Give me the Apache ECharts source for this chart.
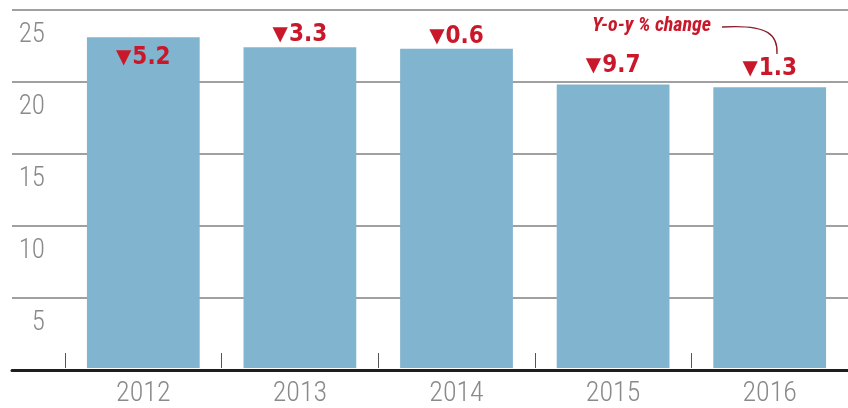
<!DOCTYPE html>
<html>
<head>
<meta charset="utf-8">
<script src="https://cdn.jsdelivr.net/npm/echarts@6/dist/echarts.min.js"></script>
<style>
html,body{margin:0;padding:0;background:#fff;}
#c{width:848px;height:408px;}
</style>
</head>
<body>
<div id="c"></div>
<script>
// Data
var years = ['2012', '2013', '2014', '2015', '2016'];
var values = [23.1, 22.4, 22.3, 19.8, 19.6];
var yoyChange = ['5.2', '3.3', '0.6', '9.7', '1.3'];
var yTicks = [0, 5, 10, 15, 20, 25];

var RED = '#c8182a';
var BAR = '#80b4cf';
var LABEL_FONT = '"Roboto Condensed", sans-serif';
var NUM_FONT = '"DejaVu Sans Condensed", "DejaVu Sans", sans-serif';

var chart = echarts.init(document.getElementById('c'), null, {renderer: 'canvas'});

var barData = values.map(function (v, i) {
  var item = {value: v};
  if (i === 0) {
    item.label = {position: 'insideTop', distance: 9};
  } else if (i >= 3) {
    item.label = {distance: 7};
  }
  return item;
});

var option = {
  animation: false,
  backgroundColor: '#fff',
  grid: [
    {left: 12, right: 0, top: 10, bottom: 38},
    {left: 65, right: -2, top: 10, bottom: 38}
  ],
  xAxis: [
    {
      gridIndex: 0, type: 'value', min: 0, max: 1, z: 5,
      axisLine: {show: true, lineStyle: {color: '#1e1e1e', width: 3}},
      axisTick: {show: false}, axisLabel: {show: false}, splitLine: {show: false}
    },
    {
      gridIndex: 1, type: 'category', data: years,
      axisLine: {show: false},
      axisTick: {show: true, inside: true, length: 15, lineStyle: {color: '#555', width: 1}},
      axisLabel: {color: '#8a8a8a', fontSize: 28, fontWeight: 300, fontFamily: LABEL_FONT, margin: 12}
    }
  ],
  yAxis: [
    {
      gridIndex: 0, type: 'value', min: yTicks[0], max: yTicks[yTicks.length - 1], interval: yTicks[1] - yTicks[0],
      axisLine: {show: false}, axisTick: {show: false},
      splitLine: {show: true, lineStyle: {color: '#a0a0a0', width: 2}},
      axisLabel: {
        inside: true, margin: 33, align: 'right', verticalAlign: 'top',
        padding: [12, 0, 0, 0],
        color: '#8a8a8a', fontSize: 27, fontWeight: 300, fontFamily: LABEL_FONT,
        formatter: function (v) { return v === 0 ? '' : String(v); }
      }
    },
    {
      gridIndex: 1, type: 'value', min: yTicks[0], max: yTicks[yTicks.length - 1],
      show: false
    }
  ],
  series: [
    {
      type: 'bar', xAxisIndex: 1, yAxisIndex: 1,
      data: barData,
      barWidth: '72%',
      itemStyle: {color: BAR},
      label: {
        show: true, position: 'top', distance: 0,
        formatter: function (p) { return '{tri|\u25BC}{num|' + yoyChange[p.dataIndex] + '}'; },
        rich: {
          tri: {fontSize: 20, color: RED, fontFamily: 'DejaVu Sans', padding: [0, 1, 0, 0]},
          num: {fontSize: 24, fontWeight: 'bold', color: RED, fontFamily: NUM_FONT}
        }
      },
      z: 3
    }
  ],
  graphic: [
    {
      type: 'text', left: 592, top: 16, z: 10,
      style: {
        text: 'Y-o-y % change', fill: RED,
        font: 'italic bold 20px "Roboto Condensed", sans-serif'
      }
    },
    {
      type: 'bezierCurve', z: 10,
      shape: {x1: 722, y1: 27, cpx1: 770, cpy1: 24, cpx2: 778, cpy2: 36, x2: 777, y2: 54},
      style: {stroke: '#8a1b2a', lineWidth: 1.3, fill: null}
    }
  ]
};

chart.setOption(option);
</script>
</body>
</html>
